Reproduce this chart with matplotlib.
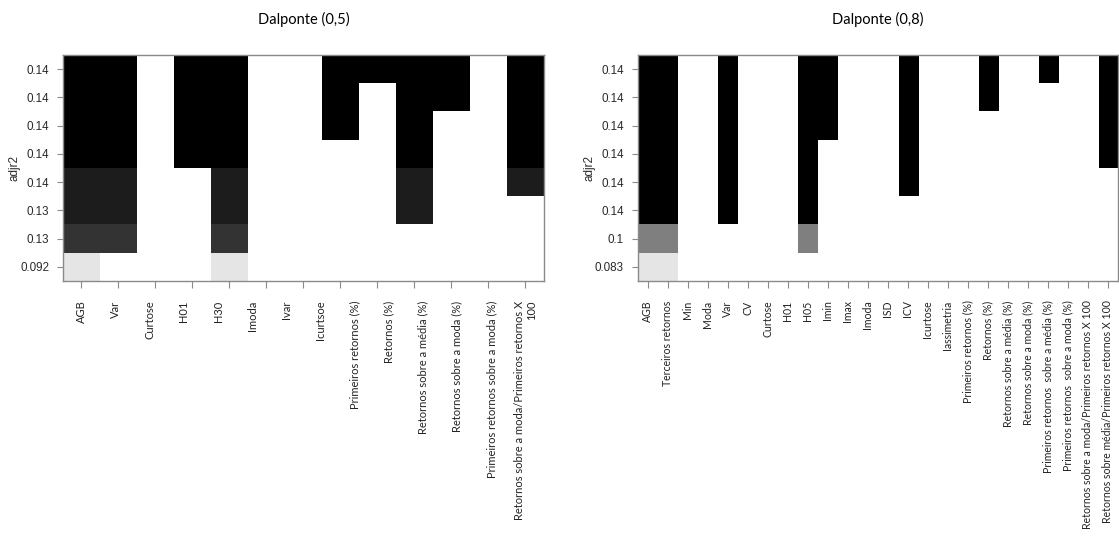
import numpy as np
import matplotlib
matplotlib.use("Agg")
import matplotlib.pyplot as plt

# Dalponte (0,5): 13 columns in the grid, 14 labels written under it
left_title = "Dalponte (0,5)"
left_labels = ["AGB", "Var", "Curtose", "H01", "H30", "Imoda", "Ivar", "Icurtsoe",
               "Primeiros retornos (%)", "Retornos (%)", "Retornos sobre a média (%)",
               "Retornos sobre a moda (%)", "Primeiros retornos sobre a moda (%)",
               "Retornos sobre a moda/Primeiros retornos X\n100"]
left_ncols = 13
left_rows = ["0.14", "0.14", "0.14", "0.14", "0.14", "0.13", "0.13", "0.092"]  # top -> bottom
left_shade = [0.0, 0.0, 0.0, 0.0, 0.11, 0.11, 0.2, 0.9]
left_members = [
    [1, 2, 4, 5, 8, 9, 10, 11, 13],
    [1, 2, 4, 5, 8, 10, 11, 13],
    [1, 2, 4, 5, 8, 10, 13],
    [1, 2, 4, 5, 10, 13],
    [1, 2, 5, 10, 13],
    [1, 2, 5, 10],
    [1, 2, 5],
    [1, 5],
]

# Dalponte (0,8)
right_title = "Dalponte (0,8)"
right_labels = ["AGB", "Terceiros retornos", "Min", "Moda", "Var", "CV", "Curtose", "H01",
                "H05", "Imin", "Imax", "Imoda", "ISD", "ICV", "Icurtose", "Iassimetria",
                "Primeiros retornos (%)", "Retornos (%)", "Retornos sobre a média (%)",
                "Retornos sobre a moda (%)", "Primeiros retornos  sobre a média (%)",
                "Primeiros retornos  sobre a moda (%)",
                "Retornos sobre a moda/Primeiros retornos X 100",
                "Retornos sobre média/Primeiros retornos X 100"]
right_ncols = 24
right_rows = ["0.14", "0.14", "0.14", "0.14", "0.14", "0.14", "0.1", "0.083"]
right_shade = [0.0, 0.0, 0.0, 0.0, 0.0, 0.0, 0.5, 0.9]
right_members = [
    [1, 2, 5, 9, 10, 14, 18, 21, 24],
    [1, 2, 5, 9, 10, 14, 18, 24],
    [1, 2, 5, 9, 10, 14, 24],
    [1, 2, 5, 9, 14, 24],
    [1, 2, 5, 9, 14],
    [1, 2, 5, 9],
    [1, 2, 9],
    [1, 2],
]

FRAME = "#8a8a8a"
label_font = ["Lato", "DejaVu Sans"]


def draw_panel(ax, title, labels, ncols, rows, shade, members, label_size, label_pos=None):
    nrows = len(rows)
    img = np.ones((nrows, ncols, 3))
    for r, cols in enumerate(members):
        for c in cols:
            img[r, c - 1, :] = shade[r]
    ax.imshow(img, extent=[0, ncols, 0, nrows], aspect="auto", interpolation="nearest")
    ax.set_xlim(0, ncols)
    ax.set_ylim(0, nrows)

    for s in ax.spines.values():
        s.set_color(FRAME)
        s.set_linewidth(1.0)

    ax.set_yticks(np.arange(nrows) + 0.5)
    ax.set_yticklabels(rows[::-1], family="Liberation Sans", fontsize=8.4, color="#2a2a2a")
    ax.tick_params(axis="y", length=4, color=FRAME, pad=6)

    centers = np.arange(ncols) + 0.5
    if label_pos is None:
        ax.set_xticks(centers)
        ax.set_xticklabels(labels, rotation=90, ha="center", va="top", multialignment="right",
                           family=label_font, fontsize=label_size, color="#222222")
        ax.tick_params(axis="x", length=5, color=FRAME, pad=9)
    else:
        # labels do not sit on the column ticks in the original
        ax.xaxis.remove_overlapping_locs = False
        ax.set_xticks(centers)
        ax.set_xticklabels([])
        ax.tick_params(axis="x", which="major", length=5, color=FRAME)
        ax.set_xticks(label_pos, minor=True)
        ax.set_xticklabels(labels, minor=True, rotation=90, ha="center", va="top",
                           multialignment="right", family=label_font,
                           fontsize=label_size, color="#222222")
        ax.tick_params(axis="x", which="minor", length=0, pad=14)

    ax.set_ylabel("adjr2", family="Liberation Sans", fontsize=8.4, color="#2a2a2a")
    ax.set_title(title, family=label_font, fontsize=10.5, pad=22)


fig = plt.figure(figsize=(11.19, 5.43), dpi=100)
ax1 = fig.add_axes([0.0563, 0.4825, 0.4298, 0.4162])
ax2 = fig.add_axes([0.5699, 0.4825, 0.4292, 0.4162])

draw_panel(ax1, left_title, left_labels, left_ncols, left_rows, left_shade, left_members,
           8, label_pos=np.linspace(0.5, left_ncols - 0.5, len(left_labels)))
draw_panel(ax2, right_title, right_labels, right_ncols, right_rows, right_shade, right_members,
           7.6)

ax1.yaxis.set_label_coords(-0.088, 0.5)
ax2.yaxis.set_label_coords(-0.087, 0.5)

fig.savefig("out.png", dpi=100)
